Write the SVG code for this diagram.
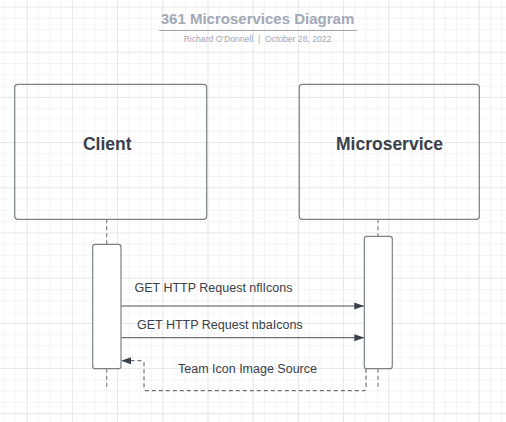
<svg xmlns="http://www.w3.org/2000/svg" width="506" height="422" viewBox="0 0 506 422">
<defs>
<pattern id="minor" x="4.1" y="6.5" width="11.3" height="11.3" patternUnits="userSpaceOnUse">
<path d="M0 0H11.3M0 0V11.3" fill="none" stroke="#ebebeb" stroke-width="1"/>
</pattern>
<pattern id="major" x="26.7" y="6.5" width="45.2" height="45.2" patternUnits="userSpaceOnUse">
<path d="M0 0H45.2M0 0V45.2" fill="none" stroke="#d9d9d9" stroke-width="1"/>
</pattern>
<marker id="arr" viewBox="0 0 10 10" refX="10" refY="5" markerWidth="10" markerHeight="10" markerUnits="userSpaceOnUse" orient="auto">
<path d="M0 1.5L10 5L0 8.5Z" fill="#3a414a"/>
</marker>
</defs>
<style>
.box{fill:none;stroke:#7c8088;stroke-width:1.2}
.act{fill:#ffffff;stroke:#7c8088;stroke-width:1.2}
.life{fill:none;stroke:#7c8088;stroke-width:1.2;stroke-dasharray:4 3}
.msg{fill:none;stroke:#4a5059;stroke-width:1}
.ret{fill:none;stroke:#4a5059;stroke-width:1;stroke-dasharray:4 3}
.lbl{font-family:"Liberation Sans",Arial,sans-serif;font-size:12.5px;fill:#3a414a}
.name{font-family:"Liberation Sans",Arial,sans-serif;font-size:17.5px;font-weight:bold;fill:#3a414a}
</style>
<rect width="506" height="422" fill="#ffffff"/>
<rect width="506" height="422" fill="url(#minor)"/>
<rect width="506" height="422" fill="url(#major)"/>
<g id="title">
<text x="257.5" y="24" text-anchor="middle" font-family="'Liberation Sans',Arial,sans-serif" font-size="15" font-weight="bold" fill="#a3a8b5">361 Microservices Diagram</text>
<line x1="159" y1="30.5" x2="357" y2="30.5" stroke="#a3a8b5" stroke-width="1.2"/>
<text x="257.5" y="42" text-anchor="middle" font-family="'Liberation Sans',Arial,sans-serif" font-size="8.6" fill="#a3a8b5" xml:space="preserve">Richard O'Donnell  |  October 28, 2022</text>
</g>
<g id="connectors">
<line class="life" x1="106.7" y1="219.3" x2="106.7" y2="244.3"/>
<line class="life" x1="106.7" y1="368.7" x2="106.7" y2="390"/>
<line class="life" x1="378" y1="219.3" x2="378" y2="236.3"/>
<line class="life" x1="378" y1="368.7" x2="378" y2="390"/>
<line class="msg" x1="121" y1="306" x2="364.3" y2="306" marker-end="url(#arr)"/>
<line class="msg" x1="121" y1="337.7" x2="364.3" y2="337.7" marker-end="url(#arr)"/>
<path class="ret" d="M366 368.7V388.7Q366 390.7 364 390.7H146Q144 390.7 144 388.7V362.7Q144 360.7 142 360.7H121" marker-end="url(#arr)"/>
<text class="lbl" x="134.5" y="291.5">GET HTTP Request nflIcons</text>
<text class="lbl" x="137" y="329">GET HTTP Request nbaIcons</text>
<text class="lbl" x="178" y="373">Team Icon Image Source</text>
</g>
<g id="client">
<rect class="box" x="14.7" y="84.3" width="192" height="135" rx="3"/>
<text class="name" x="107.3" y="150" text-anchor="middle">Client</text>
</g>
<g id="microservice">
<rect class="box" x="299.3" y="84.3" width="180" height="135" rx="3"/>
<text class="name" x="389.5" y="150" text-anchor="middle">Microservice</text>
</g>
<g id="client-activation">
<rect class="act" x="92.7" y="244.3" width="28.3" height="124.4" rx="2.5"/>
</g>
<g id="microservice-activation">
<rect class="act" x="364.3" y="236.3" width="28" height="132.4" rx="2.5"/>
</g>
</svg>
